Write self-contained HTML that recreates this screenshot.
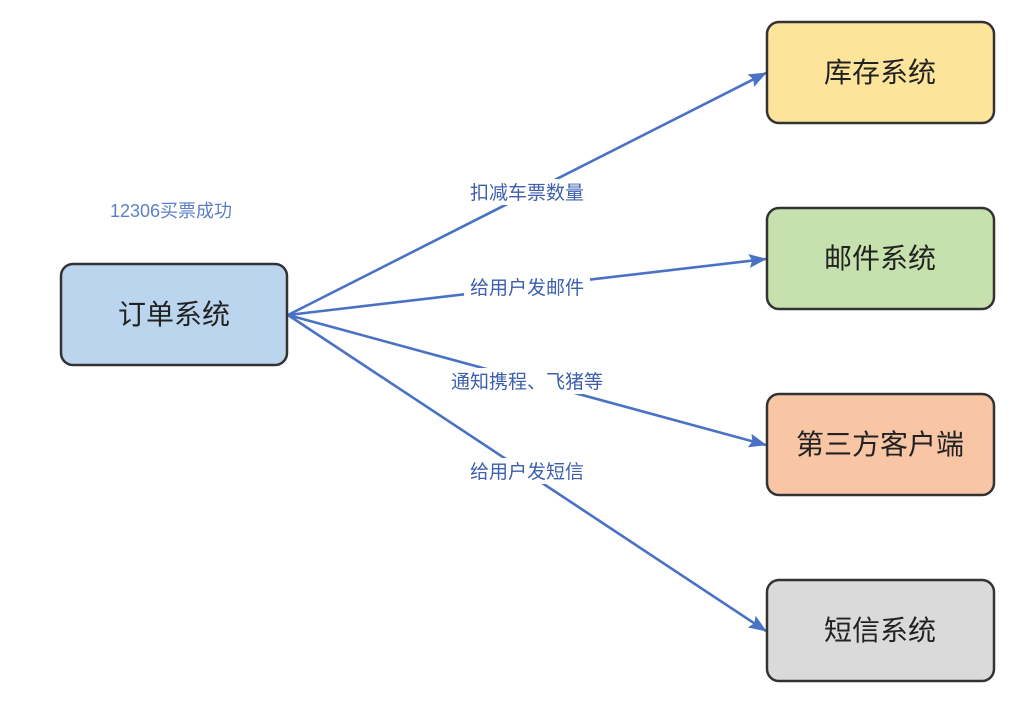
<!DOCTYPE html>
<html><head><meta charset="utf-8"><style>
body{margin:0;background:#fff;width:1019px;height:701px;overflow:hidden;font-family:"Liberation Sans","Noto Sans CJK SC",sans-serif}
</style></head><body>
<svg width="1019" height="701" xmlns="http://www.w3.org/2000/svg" style="position:absolute;left:0;top:0">
<defs>
<marker id="b" markerWidth="18" markerHeight="14" refX="17" refY="7" orient="auto" markerUnits="userSpaceOnUse"><path d="M0,0 L18,7 L0,14 L3,7 Z" fill="#4a72c4"/></marker></defs>
<g stroke="#4a72c4" stroke-width="2.6" fill="none">
<line x1="288" y1="315" x2="766" y2="73" marker-end="url(#b)"/>
<line x1="288" y1="315" x2="766" y2="259" marker-end="url(#b)"/>
<line x1="288" y1="315" x2="766" y2="445" marker-end="url(#b)"/>
<line x1="288" y1="315" x2="766" y2="631" marker-end="url(#b)"/>
</g>
<g font-size="19" fill="#3d5fae" text-anchor="middle" font-family="Liberation Sans, Noto Sans CJK SC, sans-serif">
<rect x="464" y="179" width="126" height="26" fill="#fff"/><text x="527" y="199">扣减车票数量</text>
<rect x="464" y="274" width="126" height="26" fill="#fff"/><text x="527" y="294">给用户发邮件</text>
<rect x="444" y="368" width="166" height="26" fill="#fff"/><text x="527" y="388">通知携程、飞猪等</text>
<rect x="464" y="458" width="126" height="26" fill="#fff"/><text x="527" y="478">给用户发短信</text>
<text x="171" y="217" font-size="18" fill="#5b80c8">12306买票成功</text>
</g>
<g stroke="#333" stroke-width="2.5">
<rect x="61" y="264" width="226" height="101" rx="12" fill="#bcd5ee"/>
<rect x="767" y="22" width="227" height="101" rx="12" fill="#fde49b"/>
<rect x="767" y="208" width="227" height="101" rx="12" fill="#c6e1ad"/>
<rect x="767" y="394" width="227" height="101" rx="12" fill="#f8c6a4"/>
<rect x="767" y="580" width="227" height="101" rx="12" fill="#dadada"/>
</g>
<g font-size="28" fill="#222" text-anchor="middle" font-family="Liberation Sans, Noto Sans CJK SC, sans-serif">
<text x="174" y="324">订单系统</text>
<text x="880" y="82">库存系统</text>
<text x="880" y="268">邮件系统</text>
<text x="880" y="454">第三方客户端</text>
<text x="880" y="640">短信系统</text>
</g>
</svg>
</body></html>
